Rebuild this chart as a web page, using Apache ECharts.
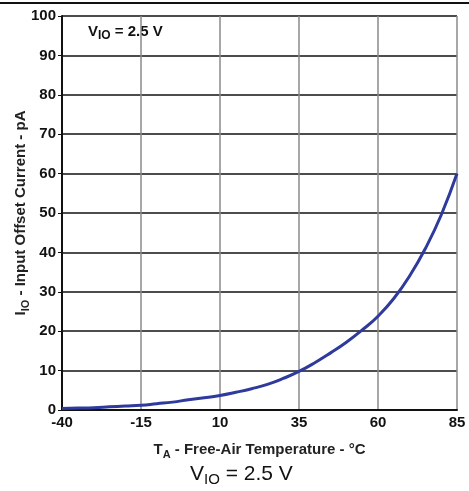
<!DOCTYPE html>
<html>
<head>
<meta charset="utf-8">
<script src="https://cdn.jsdelivr.net/npm/echarts@6/dist/echarts.min.js"></script>
<style>
  html, body { margin: 0; padding: 0; background: #fff; }
  #chart { width: 469px; height: 491px; }
</style>
</head>
<body>
<div id="chart"></div>
<script>
// temperature (°C) and input offset current (pA)
var temps = [-40, -35, -30, -25, -20, -15, -10, -5, 0, 5, 10, 15, 20, 25, 30, 35, 40, 45, 50, 55, 60, 65, 70, 75, 80, 85];
var current = [0.4, 0.5, 0.6, 0.8, 1.0, 1.2, 1.6, 2.0, 2.6, 3.1, 3.7, 4.5, 5.4, 6.5, 8.0, 9.8, 12.0, 14.5, 17.2, 20.3, 23.8, 28.3, 34, 41, 49.5, 60];

var font = 'Liberation Sans, Arial, sans-serif';

var chart = echarts.init(document.getElementById('chart'));
chart.setOption({
    animation: false,
    grid: { left: 62, right: 12, top: 16, bottom: 81, outerBoundsMode: 'none' },
    xAxis: {
        type: 'value',
        min: -40,
        max: 85,
        interval: 25,
        name: '{a|T}{s|A}{a| - Free-Air Temperature - °C}',
        nameLocation: 'middle',
        nameGap: 30,
        nameMoveOverlap: false,
        nameTextStyle: {
            rich: {
                a: { fontFamily: font, fontWeight: 'bold', fontSize: 15, color: '#222' },
                s: { fontFamily: font, fontWeight: 'bold', fontSize: 11, color: '#222', padding: [9, 0, 0, 0] }
            }
        },
        axisLine: { onZero: false, lineStyle: { color: '#111', width: 2 } },
        axisTick: { show: false },
        axisLabel: { fontFamily: font, fontWeight: 'bold', fontSize: 15, color: '#111', margin: 5 },
        splitLine: { show: true, lineStyle: { color: '#8a8a8a', width: 1.5 } }
    },
    yAxis: {
        type: 'value',
        min: 0,
        max: 100,
        interval: 10,
        name: '{a|I}{s|IO}{a| - Input Offset Current - pA}',
        nameLocation: 'middle',
        nameGap: 31,
        nameMoveOverlap: false,
        nameTextStyle: {
            rich: {
                a: { fontFamily: font, fontWeight: 'bold', fontSize: 15, color: '#222' },
                s: { fontFamily: font, fontWeight: 'bold', fontSize: 11, color: '#222', padding: [9, 0, 0, 0] }
            }
        },
        axisLine: { show: true, onZero: false, lineStyle: { color: '#111', width: 2 } },
        axisTick: { show: true, length: 4, lineStyle: { color: '#111' } },
        axisLabel: { fontFamily: font, fontWeight: 'bold', fontSize: 15, color: '#111', margin: 6 },
        splitLine: { show: true, lineStyle: { color: '#111', width: 1.5 } }
    },
    series: [{
        type: 'line',
        data: temps.map(function (t, i) { return [t, current[i]]; }),
        smooth: true,
        showSymbol: false,
        lineStyle: { color: '#2e3a9c', width: 3 }
    }],
    graphic: [
        {
            type: 'line',
            shape: { x1: 0, y1: 3, x2: 469, y2: 3 },
            style: { stroke: '#111', lineWidth: 2 }
        },
        {
            type: 'text',
            left: 88,
            top: 24,
            style: {
                text: '{a|V}{s|IO}{a| = 2.5 V}',
                rich: {
                    a: { fontFamily: font, fontWeight: 'bold', fontSize: 15, fill: '#111' },
                    s: { fontFamily: font, fontWeight: 'bold', fontSize: 12, fill: '#111', padding: [9, 0, 0, 0] }
                }
            }
        },
        {
            type: 'text',
            left: 190,
            top: 464,
            style: {
                text: '{a|V}{s|IO}{a| = 2.5 V}',
                rich: {
                    a: { fontFamily: font, fontSize: 21, fill: '#111' },
                    s: { fontFamily: font, fontSize: 15, fill: '#111', padding: [11, 0, 0, 0] }
                }
            }
        }
    ]
});
</script>
</body>
</html>
